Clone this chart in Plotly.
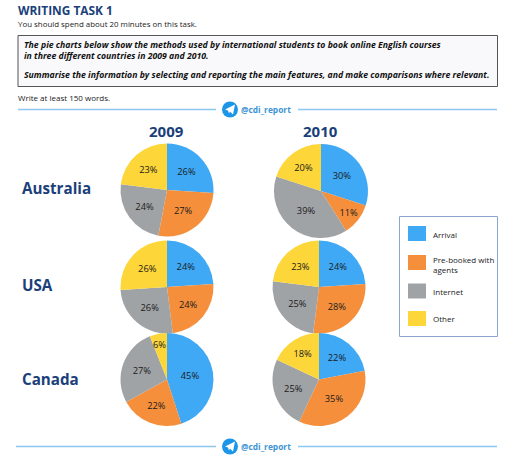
import plotly.graph_objects as go

WIDTH = 512
HEIGHT = 467

methods = ['Arrival', 'Pre-booked with<br>agents', 'Internet', 'Other']
colors = ['#3FA9F5', '#F58F3C', '#A0A3A6', '#FDD63A']
countries = ['Australia', 'USA', 'Canada']
years = ['2009', '2010']

australia_2009 = [26, 27, 24, 23]
australia_2010 = [30, 11, 39, 20]
usa_2009 = [24, 24, 26, 26]
usa_2010 = [24, 28, 25, 23]
canada_2009 = [45, 22, 27, 6]
canada_2010 = [22, 35, 25, 18]

NAVY = '#1B3F7A'
LINE_BLUE = '#8CC8EE'
FONT = 'Open Sans'
LABEL_SIZE = 9.3


def px(x):
    return x / WIDTH


def py(y):
    return 1 - y / HEIGHT


def add_text(fig, x, y, text, size, color='#222222', anchor='left', bold=False, italic=False):
    if bold:
        text = '<b>' + text + '</b>'
    if italic:
        text = '<i>' + text + '</i>'
    # annotations carry about 2px of padding, so pull left aligned text back
    if anchor == 'left':
        x -= 2
    fig.add_annotation(x=px(x), y=py(y), xref='paper', yref='paper', text=text, showarrow=False,
                       xanchor=anchor, yanchor='middle', align='left',
                       font=dict(family=FONT, size=size, color=color))


def add_rect(fig, x0, y0, x1, y1, fill, line_color=None, line_width=1):
    fig.add_shape(type='rect', xref='paper', yref='paper', x0=px(x0), x1=px(x1), y0=py(y0), y1=py(y1),
                  fillcolor=fill, line=dict(color=line_color, width=line_width if line_color else 0))


def add_pie(fig, values, cx, cy, r):
    # slices too thin for the label get it as an annotation instead, or plotly shrinks it
    positions = ['none' if v < 10 else 'inside' for v in values]
    fig.add_trace(go.Pie(labels=methods, values=values, sort=False, direction='clockwise', rotation=0,
                         domain=dict(x=[px(cx - r), px(cx + r)], y=[py(cy + r), py(cy - r)]),
                         marker=dict(colors=colors, line=dict(width=0)),
                         texttemplate='%{value}%', textposition=positions,
                         insidetextorientation='horizontal',
                         textfont=dict(family=FONT, size=LABEL_SIZE, color='#1A1A1A'),
                         showlegend=False, hoverinfo='label+value'))


def add_divider(fig, y, x_left, x_right):
    # two rules with the telegram badge between them
    fig.add_shape(type='line', xref='paper', yref='paper', x0=px(x_left), x1=px(216), y0=py(y), y1=py(y),
                  line=dict(color=LINE_BLUE, width=1.3))
    fig.add_shape(type='line', xref='paper', yref='paper', x0=px(298), x1=px(x_right), y0=py(y), y1=py(y),
                  line=dict(color=LINE_BLUE, width=1.3))
    cx = 230
    fig.add_shape(type='circle', xref='paper', yref='paper', x0=px(cx - 8), x1=px(cx + 8),
                  y0=py(y + 8), y1=py(y - 8), fillcolor='#1E96E8', line=dict(width=0))
    plane = [(cx - 5, y), (cx + 5, y - 5), (cx + 3, y + 5), (cx, y + 2), (cx - 1, y + 4), (cx - 2, y + 1)]
    path = 'M ' + ' L '.join(f'{px(a):.4f},{py(b):.4f}' for a, b in plane) + ' Z'
    fig.add_shape(type='path', xref='paper', yref='paper', path=path, fillcolor='white', line=dict(width=0))
    add_text(fig, 241, y, '@cdi_report', 8.4, color='#3D94D6', bold=True)


fig = go.Figure()

add_pie(fig, australia_2009, 167, 190, 46.5)
add_pie(fig, australia_2010, 321, 191, 47)
add_pie(fig, usa_2009, 167, 287, 46.5)
add_pie(fig, usa_2010, 319, 287, 46.5)
add_pie(fig, canada_2009, 167, 379.5, 46.5)
add_pie(fig, canada_2010, 319, 379.5, 46.5)

add_text(fig, 159, 344, f'{canada_2009[3]}%', LABEL_SIZE, color='#1A1A1A', anchor='center')

# header
add_text(fig, 18, 10.5, 'WRITING TASK 1', 11.9, color=NAVY, bold=True)
add_text(fig, 18, 24, 'You should spend about 20 minutes on this task.', 7.9)
add_rect(fig, 18, 35.5, 497.5, 86.5, '#F9F9FB', '#555555', 1)
add_text(fig, 24, 45, 'The pie charts below show the methods used by international students to book online English courses', 8.7, color='#111111', italic=True, bold=True)
add_text(fig, 24, 56, 'in three different countries in 2009 and 2010.', 8.7, color='#111111', italic=True, bold=True)
add_text(fig, 24, 75, 'Summarise the information by selecting and reporting the main features, and make comparisons where relevant.', 8.7, color='#111111', italic=True, bold=True)
add_text(fig, 18, 97, 'Write at least 150 words.', 8)
add_divider(fig, 109.5, 18, 497)

# column and row headings
add_text(fig, 166, 131, years[0], 15, color=NAVY, anchor='center', bold=True)
add_text(fig, 320, 131, years[1], 15, color=NAVY, anchor='center', bold=True)
add_text(fig, 22, 188, countries[0], 15.2, color=NAVY, bold=True)
add_text(fig, 22, 285, countries[1], 15.2, color=NAVY, bold=True)
add_text(fig, 22, 379, countries[2], 15.2, color=NAVY, bold=True)

# legend
add_rect(fig, 399.5, 216.5, 497.5, 336.5, 'white', '#8AA6CC', 1)
legend_tops = [226, 255, 283.5, 311]
legend_text_y = [234, 264, 291, 318]
for i, method in enumerate(methods):
    add_rect(fig, 408, legend_tops[i], 426, legend_tops[i] + 15, colors[i])
    add_text(fig, 433, legend_text_y[i], method, 8)

add_divider(fig, 446.5, 16, 497)

fig.update_layout(width=WIDTH, height=HEIGHT, margin=dict(l=0, r=0, t=0, b=0),
                  paper_bgcolor='white', plot_bgcolor='white')

fig.write_html("out.html", config=dict(displayModeBar=False), post_script="document.body.style.margin='0';")
